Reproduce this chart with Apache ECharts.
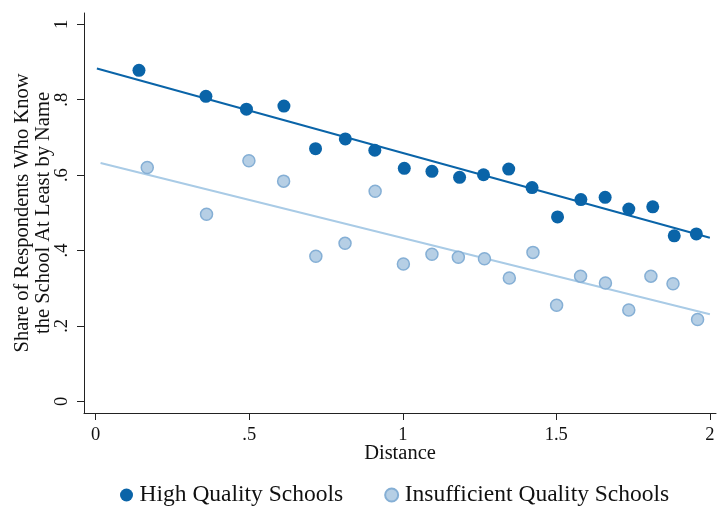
<!DOCTYPE html>
<html>
<head>
<meta charset="utf-8">
<script src="https://cdn.jsdelivr.net/npm/echarts@6/dist/echarts.min.js"></script>
<style>
  html, body { margin: 0; padding: 0; background: #fff; }
  #chart { width: 718px; height: 510px; }
</style>
</head>
<body>
<div id="chart"></div>
<script>
// Share of respondents who know the school, by distance
const highDistance = [0.141, 0.359, 0.491, 0.613, 0.716, 0.813, 0.909, 1.005, 1.095, 1.185,
                      1.263, 1.345, 1.421, 1.504, 1.580, 1.659, 1.736, 1.814, 1.884, 1.956];
const highShare    = [0.878, 0.809, 0.775, 0.783, 0.670, 0.696, 0.666, 0.618, 0.610, 0.594,
                      0.601, 0.616, 0.567, 0.489, 0.535, 0.541, 0.510, 0.516, 0.439, 0.444];

const lowDistance  = [0.168, 0.361, 0.499, 0.612, 0.717, 0.812, 0.910, 1.002, 1.095, 1.181,
                      1.266, 1.347, 1.424, 1.501, 1.579, 1.660, 1.736, 1.808, 1.880, 1.960];
const lowShare     = [0.620, 0.496, 0.638, 0.584, 0.385, 0.419, 0.557, 0.364, 0.390, 0.382,
                      0.378, 0.327, 0.395, 0.255, 0.332, 0.314, 0.242, 0.332, 0.312, 0.217];

// Linear fit endpoints
const highFitX = [0.004, 2.0];
const highFitY = [0.883, 0.434];
const lowFitX  = [0.016, 2.0];
const lowFitY  = [0.632, 0.231];

const xTicks = [0, 0.5, 1, 1.5, 2];
const yTicks = [0, 0.2, 0.4, 0.6, 0.8, 1];
const seriesNames = ['High Quality Schools', 'Insufficient Quality Schools'];

const FONT = 'Liberation Serif';
const DARK = '#0a64a8';
const LIGHT_FILL = '#b6cfe5';
const LIGHT_EDGE = '#85afd5';
const LIGHT_LINE = '#a9cbe6';

const pairs = (xs, ys) => xs.map((x, i) => [x, ys[i]]);
const tickText = v => {
  const s = String(Math.round(v * 10) / 10);
  return s.startsWith('0.') ? s.slice(1) : s;
};

const chart = echarts.init(document.getElementById('chart'), null, { renderer: 'canvas' });
chart.setOption({
  animation: false,
  backgroundColor: '#ffffff',
  textStyle: { fontFamily: FONT },
  grid: { left: 84, right: 2, top: 13, bottom: 97, containLabel: false, outerBoundsMode: 'none' },
  legend: {
    top: 478,
    left: 115,
    itemGap: 41,
    itemWidth: 16,
    itemHeight: 13,
    icon: 'circle',
    data: seriesNames,
    textStyle: { fontFamily: FONT, fontSize: 23.5, color: '#111' }
  },
  xAxis: {
    type: 'value',
    min: -0.038,
    max: 2.02,
    name: 'Distance',
    nameLocation: 'middle',
    nameGap: 30,
    nameMoveOverlap: false,
    nameTextStyle: { fontFamily: FONT, fontSize: 20.5, color: '#111' },
    splitLine: { show: false },
    axisLine: { onZero: false, lineStyle: { color: '#222', width: 1 } },
    axisTick: { show: true, length: 7, customValues: xTicks, lineStyle: { color: '#222' } },
    axisLabel: {
      customValues: xTicks,
      formatter: tickText,
      fontFamily: FONT, fontSize: 18.5, color: '#111', margin: 13
    }
  },
  yAxis: {
    type: 'value',
    min: -0.031,
    max: 1.03,
    name: 'Share of Respondents Who Know\nthe School At Least by Name',
    nameLocation: 'middle',
    nameGap: 30,
    nameMoveOverlap: false,
    nameRotate: 90,
    nameTextStyle: { fontFamily: FONT, fontSize: 20.5, color: '#111', lineHeight: 21 },
    splitLine: { show: false },
    axisLine: { show: true, onZero: false, lineStyle: { color: '#222', width: 1 } },
    axisTick: { show: true, length: 7, customValues: yTicks, lineStyle: { color: '#222' } },
    axisLabel: {
      customValues: yTicks,
      formatter: tickText,
      rotate: 90,
      fontFamily: FONT, fontSize: 18.5, color: '#111', margin: 12
    }
  },
  series: [
    {
      name: 'fitHigh',
      type: 'line',
      data: pairs(highFitX, highFitY),
      showSymbol: false,
      silent: true,
      lineStyle: { color: DARK, width: 2 },
      z: 1
    },
    {
      name: 'fitLow',
      type: 'line',
      data: pairs(lowFitX, lowFitY),
      showSymbol: false,
      silent: true,
      lineStyle: { color: LIGHT_LINE, width: 2 },
      z: 1
    },
    {
      name: seriesNames[0],
      type: 'scatter',
      data: pairs(highDistance, highShare),
      symbol: 'circle',
      symbolSize: 13,
      itemStyle: { color: DARK, opacity: 1 },
      z: 3
    },
    {
      name: seriesNames[1],
      type: 'scatter',
      data: pairs(lowDistance, lowShare),
      symbol: 'circle',
      symbolSize: 12,
      itemStyle: { color: LIGHT_FILL, borderColor: LIGHT_EDGE, borderWidth: 1.5, opacity: 1 },
      z: 3
    }
  ]
});
</script>
</body>
</html>
